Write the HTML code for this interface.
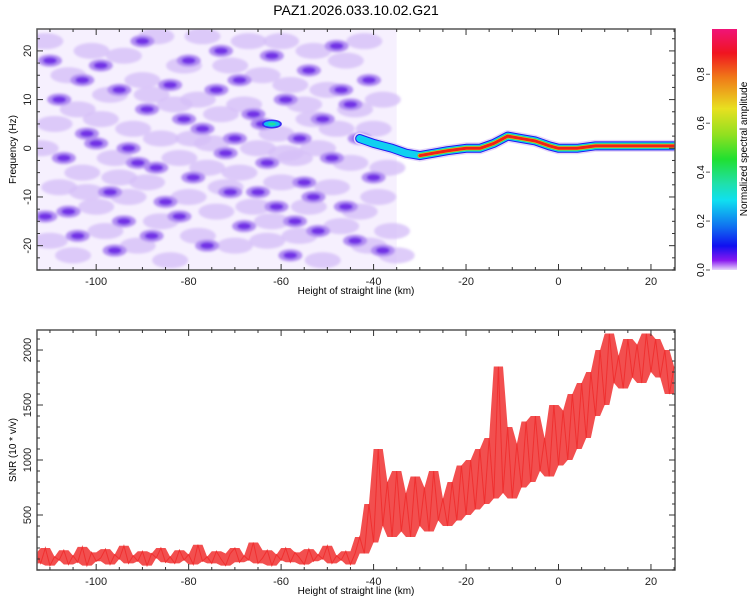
<!DOCTYPE html>
<html><head><meta charset="utf-8"><style>
html,body{margin:0;padding:0;background:#fff;}
svg{display:block;font-family:"Liberation Sans",sans-serif;}
</style></head><body>
<svg id="c" width="750" height="600" viewBox="0 0 750 600">
<defs>
<linearGradient id="cb" x1="0" y1="0" x2="0" y2="1">
<stop offset="0" stop-color="#f01478"/><stop offset="0.1" stop-color="#f01420"/>
<stop offset="0.2" stop-color="#f07818"/><stop offset="0.33" stop-color="#e8e020"/>
<stop offset="0.44" stop-color="#90e020"/><stop offset="0.54" stop-color="#20e030"/>
<stop offset="0.64" stop-color="#20e0a8"/><stop offset="0.71" stop-color="#10e0f0"/>
<stop offset="0.82" stop-color="#1070f0"/><stop offset="0.9" stop-color="#1010f0"/>
<stop offset="0.96" stop-color="#8818f0"/><stop offset="1" stop-color="#e8d8fb"/>
</linearGradient>
<clipPath id="clipTop"><rect x="37" y="29" width="638" height="241"/></clipPath>
<clipPath id="clipBot"><rect x="37" y="330" width="638" height="240"/></clipPath>
<filter id="soft"><feGaussianBlur stdDeviation="1.2"/></filter>
</defs>
<text x="356" y="15" text-anchor="middle" font-size="14">PAZ1.2026.033.10.02.G21</text>
<g id="topPanel"></g>
<g id="botPanel"></g>
<g id="cbar"></g>
</svg>
<script>
const NS="http://www.w3.org/2000/svg";
// SNR series: heights from -113 to 25 km in 1 km steps
const snrStart=-113;
const snrStep=1;
const snrValues=[150,60,200,40,120,90,180,50,130,70,
210,40,160,80,110,190,50,140,100,220,
60,130,80,170,40,150,110,200,70,120,
60,180,90,140,50,230,80,120,60,170,
100,40,150,200,70,130,90,250,60,110,
180,40,140,90,200,70,160,110,50,190,
80,140,100,220,60,130,90,170,50,150,
300,150,600,250,1100,400,800,300,900,350,
700,300,850,400,750,350,900,450,650,400,
800,450,950,500,1000,550,1100,600,1200,650,
1850,700,1300,650,1150,750,1350,800,1400,900,
1200,850,1500,950,1450,1000,1600,1100,1700,1200,
1800,1400,2000,1500,2150,1700,1950,1650,2100,1750,
2050,1700,2150,1800,2100,1750,2000,1600,1850];
// Spectrogram ridge (height km, freq Hz)
const ridgeHeights=[-43,-40,-36,-33,-30,-27,-24,-20,-17,-14,-11,-8,-5,-2,0,4,8,25];
const ridgeFreqs=[2,1,0,-1,-1.5,-1,-0.5,0,0,1,2.5,2,1.5,0.5,0,0,0.5,0.5];
// Noise blobs (height km, freq Hz)
const darkBlobs=[[-110,18],[-108,10],[-106,-13],[-104,-18],[-102,3],[-100,1],[-97,-9],[-96,-21],[-95,12],[-93,0],[-91,-3],[-90,22],[-89,8],[-87,-4],[-85,-11],[-84,13],[-82,-14],[-80,18],[-79,-6],[-77,4],[-76,-20],[-74,12],[-72,-1],[-71,-9],[-69,14],[-68,-16],[-66,7],[-64,5],[-63,-3],[-62,19],[-61,-12],[-59,10],[-58,-22],[-56,2],[-55,-7],[-54,16],[-52,-17],[-51,6],[-49,-2],[-48,21],[-46,-12],[-45,9],[-44,-19],[-43,2],[-41,14],[-40,-6],[-107,-2],[-99,17],[-88,-18],[-73,20],[-65,-9],[-53,-10],[-47,12],[-38,-21],[-111,-14],[-103,14],[-94,-15],[-81,6],[-70,2],[-57,-15]];
const mediumBlobs=[[-111,22],[-109,5],[-108,-8],[-106,15],[-105,-22],[-104,8],[-103,-5],[-101,20],[-100,-12],[-99,6],[-98,-17],[-97,11],[-96,-2],[-94,19],[-93,-10],[-92,4],[-91,-20],[-90,14],[-89,-7],[-87,23],[-86,2],[-86,-15],[-84,-23],[-83,9],[-82,-2],[-81,17],[-80,-10],[-78,-18],[-78,10],[-77,23],[-76,-4],[-75,1],[-74,-13],[-73,7],[-71,17],[-70,-20],[-69,-5],[-68,9],[-67,22],[-66,-12],[-65,0],[-64,15],[-63,-19],[-61,3],[-60,-7],[-60,22],[-58,13],[-57,-2],[-56,-18],[-55,9],[-54,-12],[-53,20],[-52,0],[-51,-23],[-50,12],[-49,-8],[-48,4],[-47,-16],[-46,18],[-45,-3],[-44,8],[-43,-13],[-42,22],[-41,-20],[-40,4],[-39,-10],[-38,10],[-37,-4],[-36,-17],[-35,-22],[-112,0],[-110,-19],[-102,-9],[-95,-6],[-88,11],[-79,2],[-72,-8],[-62,-15],[-59,-1],[-53,6]];
const hotBlob=[[-62,5]];
const xTicks=[-100,-80,-60,-40,-20,0,20];
const fTicks=[-20,-10,0,10,20];
const snrTicks=[500,1000,1500,2000];
const cbTicks=[0,0.2,0.4,0.6,0.8];

const X0=37,X1=675,HMIN=-112.8,HMAX=25.2;
const xs=h=>X0+(h-HMIN)/(HMAX-HMIN)*(X1-X0);
const TY0=29,TY1=270,FMIN=-25,FMAX=24.5;
const fy=f=>TY1-(f-FMIN)/(FMAX-FMIN)*(TY1-TY0);
const BY0=330,BY1=570,SMIN=0,SMAX=2182;
const sy=v=>BY1-(v-SMIN)/(SMAX-SMIN)*(BY1-BY0);

function mk(tag,attrs,parent){const e=document.createElementNS(NS,tag);for(const k in attrs)e.setAttribute(k,attrs[k]);parent.appendChild(e);return e;}
const topG=document.getElementById('topPanel'),botG=document.getElementById('botPanel'),cbar=document.getElementById('cbar');

// ---- Spectrogram ----
const tg=mk('g',{'clip-path':'url(#clipTop)'},topG);
const base=mk('rect',{x:X0,y:TY0,width:xs(-35)-X0,height:TY1-TY0,fill:'#f6f0fe'},tg);


const mg=mk('g',{filter:'url(#soft)'},tg);
mediumBlobs.forEach(b=>{
  const e=mk('ellipse',{cx:xs(b[0]),cy:fy(b[1]),rx:18,ry:8,fill:'#d6bff7',opacity:0.8},mg);
  
  
});
darkBlobs.forEach(b=>{
  const e=mk('ellipse',{cx:xs(b[0]),cy:fy(b[1]),rx:12,ry:6,fill:'#b28ef2'},mg);
  
  
  const d=mk('ellipse',{cx:xs(b[0]),cy:fy(b[1]),rx:7,ry:3.5,fill:'#7232e6'},mg);
  
  
});
hotBlob.forEach(b=>{
  [[10,4.5,'#3a30f0'],[8,3,'#10c0f0'],[4,1.5,'#20e0a0']].forEach(s=>{
    const e=mk('ellipse',{cx:xs(b[0]),cy:fy(b[1]),rx:s[0],ry:s[1],fill:s[2]},tg);
    
    
  });
});
const rpts=ridgeHeights.map((h,i)=>xs(h)+','+fy(ridgeFreqs[i])).join(' ');
const rpts2=ridgeHeights.map((h,i)=>[h,ridgeFreqs[i]]).filter(p=>p[0]>=-32).map(p=>xs(p[0])+','+fy(p[1])).join(' ');
[[12,'#e4d6fa',rpts],[9,'#2018f0',rpts],[7,'#10d0f0',rpts],[5,'#30e050',rpts2],[4,'#f0d020',rpts2],[3,'#f02018',rpts2]].forEach(s=>{
  const p=mk('polyline',{points:s[2],fill:'none',stroke:s[1],'stroke-width':s[0],'stroke-linejoin':'round','stroke-linecap':'round'},tg);
  
  
});

function axes(g,y0,y1,yticks,yfun,minorStep,ymin,ymax,xlabel,ylabel){
  const r=mk('rect',{x:X0,y:y0,width:X1-X0,height:y1-y0,fill:'none',stroke:'#555','stroke-width':1.5},g);
  
  
  for(let h=-110;h<=25;h+=5){
    const x=xs(h),L=(h%20===0)?6:3;
    mk('line',{x1:x,x2:x,y1:y1,y2:y1-L,stroke:'#333'},g);
    mk('line',{x1:x,x2:x,y1:y0,y2:y0+L,stroke:'#333'},g);
  }
  xTicks.forEach(h=>{
    const t=mk('text',{x:xs(h),y:y1+15,'text-anchor':'middle','font-size':11,fill:'#222'},g);t.textContent=h;
    
    
  });
  for(let v=Math.ceil(ymin/minorStep)*minorStep;v<=ymax;v+=minorStep){
    const y=yfun(v),maj=yticks.includes(v),L=maj?6:3;
    mk('line',{x1:X0,x2:X0+L,y1:y,y2:y,stroke:'#333'},g);
    mk('line',{x1:X1,x2:X1-L,y1:y,y2:y,stroke:'#333'},g);
  }
  yticks.forEach(v=>{
    const t=mk('text',{x:0,y:0,'text-anchor':'middle','font-size':11,fill:'#222',transform:`translate(${X0-6},${yfun(v)}) rotate(-90)`},g);t.textContent=v;
    
    
  });
  const xl=mk('text',{x:356,y:y1+24,'text-anchor':'middle','font-size':10},g);xl.textContent=xlabel;
  
  
  const yl=mk('text',{x:0,y:0,'text-anchor':'middle','font-size':10,transform:`translate(16,${(y0+y1)/2}) rotate(-90)`},g);yl.textContent=ylabel;
  
  
}
axes(topG,TY0,TY1,fTicks,fy,2.5,FMIN,FMAX,'Height of straight line (km)','Frequency (Hz)');

// ---- SNR ----
const bg=mk('g',{'clip-path':'url(#clipBot)'},botG);
const n=snrValues.length;
const hi=[],lo=[];
for(let i=0;i<n;i++){
  const w=snrValues.slice(Math.max(0,i-1),Math.min(n,i+2));
  hi.push(xs(snrStart+i*snrStep)+','+sy(Math.max(...w)));
  lo.unshift(xs(snrStart+i*snrStep)+','+sy(Math.min(...w)));
}
const band=mk('polygon',{points:hi.concat(lo).join(' '),fill:'#f03030',opacity:0.85},bg);


const spts=snrValues.map((v,i)=>xs(snrStart+i*snrStep)+','+sy(v)).join(' ');
const line=mk('polyline',{points:spts,fill:'none',stroke:'#f03030','stroke-width':1},bg);


axes(botG,BY0,BY1,snrTicks,sy,100,0,2180,'Height of straight line (km)','SNR (10 * v/v)');

// ---- Colorbar ----
const CB0=29,CB1=270,CBMAX=0.985;
const cy=v=>CB1-v/CBMAX*(CB1-CB0);
const cr=mk('rect',{x:712,y:CB0,width:25,height:CB1-CB0,fill:'url(#cb)'},cbar);


cbTicks.forEach(v=>{
  mk('line',{x1:706,x2:710,y1:cy(v),y2:cy(v),stroke:'#555'},cbar);
  const t=mk('text',{x:0,y:0,'text-anchor':'middle','font-size':10,transform:`translate(704,${cy(v)}) rotate(-90)`},cbar);t.textContent=v.toFixed(1);
  
  
});
const ct=mk('text',{x:0,y:0,'text-anchor':'middle','font-size':10,transform:`translate(747,149) rotate(-90)`},cbar);ct.textContent='Normalized spectral amplitude';


</script>
</body></html>
